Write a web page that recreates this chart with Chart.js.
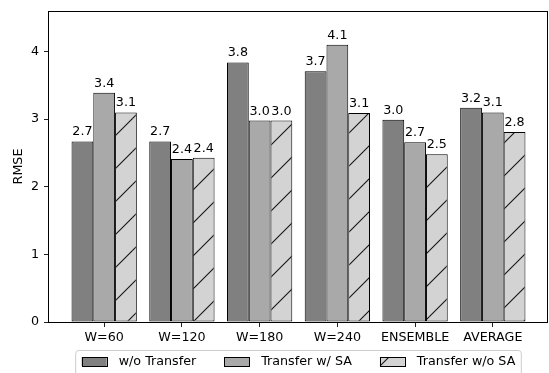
<!DOCTYPE html>
<html>
<head>
<meta charset="utf-8">
<script src="https://cdn.jsdelivr.net/npm/chart.js@4/dist/chart.umd.min.js"></script>
<style>
  html, body { margin: 0; padding: 0; background: #ffffff; }
  #wrap { position: relative; width: 549px; height: 373px; }
</style>
</head>
<body>
<div id="wrap"><canvas id="chart"></canvas></div>
<script>
// Window sizes compared, one group of three bars per category
const categories = ['W=60', 'W=120', 'W=180', 'W=240', 'ENSEMBLE', 'AVERAGE'];
const seriesNames = ['w/o Transfer', 'Transfer w/ SA', 'Transfer w/o SA'];
const noTransfer   = [2.67, 2.67, 3.84, 3.71, 2.99, 3.17];
const transferSA   = [3.39, 2.41, 2.98, 4.10, 2.66, 3.10];
const transferNoSA = [3.10, 2.43, 2.98, 3.09, 2.48, 2.81];
const yTicks = [0, 1, 2, 3, 4];

const FONT = "'DejaVu Sans', 'Liberation Sans', sans-serif";
const FONT_SIZE = 12.7;

// Diagonal "/" hatch on a light grey fill
function makeHatch(ctx) {
  const s = 33;
  const tile = document.createElement('canvas');
  tile.width = s; tile.height = s;
  const t = tile.getContext('2d');
  t.fillStyle = '#d3d3d3';
  t.fillRect(0, 0, s, s);
  t.strokeStyle = '#111111';
  t.lineWidth = 1.1;
  for (const c of [20 - s, 20, 20 + s]) {
    t.beginPath();
    t.moveTo(-3, c + 3);
    t.lineTo(c + 3, -3);
    t.stroke();
  }
  return ctx.createPattern(tile, 'repeat');
}

const canvas = document.getElementById('chart');
const hatch = makeHatch(canvas.getContext('2d'));

const toPoints = vals => vals.map((v, i) => ({ x: i, y: v }));

const barStyle = {
  borderColor: '#000000',
  borderWidth: 1,
  borderSkipped: false,
  barPercentage: 1.0,
  categoryPercentage: 0.84
};

// Value labels above each bar
const valueLabels = {
  id: 'valueLabels',
  afterDatasetsDraw(chart) {
    const ctx = chart.ctx;
    ctx.save();
    ctx.font = FONT_SIZE + 'px ' + FONT;
    ctx.fillStyle = '#000000';
    ctx.textAlign = 'center';
    ctx.textBaseline = 'alphabetic';
    chart.data.datasets.forEach((ds, di) => {
      const meta = chart.getDatasetMeta(di);
      meta.data.forEach((bar, i) => {
        ctx.fillText(ds.data[i].y.toFixed(1), bar.x, bar.y - 6);
      });
    });
    ctx.restore();
  }
};

// Box around the plotting area
const frame = {
  id: 'frame',
  afterDatasetsDraw(chart) {
    const { left, right, top, bottom } = chart.chartArea;
    const ctx = chart.ctx;
    ctx.save();
    ctx.strokeStyle = '#000000';
    ctx.lineWidth = 1;
    ctx.strokeRect(Math.round(left) - 0.5, Math.round(top) + 0.5,
                   Math.round(right) - Math.round(left), Math.round(bottom) - Math.round(top));
    ctx.restore();
  }
};

// Framed legend in one row under the category labels
const boxLegend = {
  id: 'boxLegend',
  afterDraw(chart) {
    const ctx = chart.ctx;
    const area = chart.chartArea;
    ctx.save();
    ctx.font = FONT_SIZE + 'px ' + FONT;
    const swW = 25, swH = 9, gap = 12, colGap = 28, pad = 6;
    const items = chart.data.datasets.map(ds => ({
      label: ds.label, fill: ds.backgroundColor, w: ctx.measureText(ds.label).width
    }));
    let content = 0;
    items.forEach((it, i) => { content += swW + gap + it.w + (i ? colGap : 0); });
    const cx = (area.left + area.right) / 2;
    const boxW = content + 2 * pad;
    const boxX = cx - boxW / 2;
    const boxY = 350.5;
    ctx.beginPath();
    ctx.roundRect(boxX, boxY, boxW, 40, 3);
    ctx.fillStyle = 'rgba(255,255,255,0.8)';
    ctx.fill();
    ctx.strokeStyle = '#cccccc';
    ctx.lineWidth = 1;
    ctx.stroke();
    let x = boxX + pad;
    const swY = boxY + 6.5;
    items.forEach((it, i) => {
      if (i) x += colGap;
      ctx.fillStyle = it.fill;
      ctx.fillRect(x, swY, swW, swH);
      ctx.strokeStyle = '#000000';
      ctx.strokeRect(Math.round(x) + 0.5, Math.round(swY) + 0.5, swW, swH);
      x += swW + gap;
      ctx.fillStyle = '#000000';
      ctx.textAlign = 'left';
      ctx.textBaseline = 'middle';
      ctx.fillText(it.label, x, swY + swH / 2 + 0.5);
      x += it.w;
    });
    ctx.restore();
  }
};

new Chart(canvas, {
  type: 'bar',
  data: {
    datasets: [
      Object.assign({ label: seriesNames[0], data: toPoints(noTransfer),   backgroundColor: '#808080' }, barStyle),
      Object.assign({ label: seriesNames[1], data: toPoints(transferSA),   backgroundColor: '#a9a9a9' }, barStyle),
      Object.assign({ label: seriesNames[2], data: toPoints(transferNoSA), backgroundColor: hatch }, barStyle)
    ]
  },
  plugins: [valueLabels, frame, boxLegend],
  options: {
    responsive: true,
    maintainAspectRatio: false,
    animation: false,
    devicePixelRatio: 1,
    layout: { padding: { top: 11, right: 1, left: 0, bottom: 0 } },
    plugins: {
      legend: { display: false },
      tooltip: { enabled: false }
    },
    scales: {
      x: {
        type: 'linear',
        offset: false,
        min: -0.71,
        max: 5.71,
        afterBuildTicks(scale) { scale.ticks = categories.map((_, i) => ({ value: i })); },
        afterFit(scale) { scale.height = 51; scale.paddingLeft = 0; scale.paddingRight = 0; },
        grid: { display: true, offset: false, drawOnChartArea: false, drawTicks: true, tickLength: 5, color: '#222222', lineWidth: 1 },
        border: { display: false },
        ticks: {
          autoSkip: false,
          maxRotation: 0,
          padding: 3,
          color: '#000000',
          font: { family: FONT, size: FONT_SIZE },
          callback: v => categories[v]
        }
      },
      y: {
        min: 0,
        max: 4.6,
        afterBuildTicks(scale) { scale.ticks = yTicks.map(v => ({ value: v })); },
        afterFit(scale) { scale.width = 49; scale.paddingTop = 0; scale.paddingBottom = 0; },
        grid: { display: true, drawOnChartArea: false, drawTicks: true, tickLength: 5, color: '#222222', lineWidth: 1 },
        border: { display: false },
        ticks: {
          padding: 5,
          color: '#000000',
          font: { family: FONT, size: FONT_SIZE },
          callback: v => String(v)
        },
        title: {
          display: true,
          text: 'RMSE',
          color: '#000000',
          font: { family: FONT, size: FONT_SIZE },
          padding: { top: 11.5, bottom: 0 }
        }
      }
    }
  }
});
</script>
</body>
</html>
